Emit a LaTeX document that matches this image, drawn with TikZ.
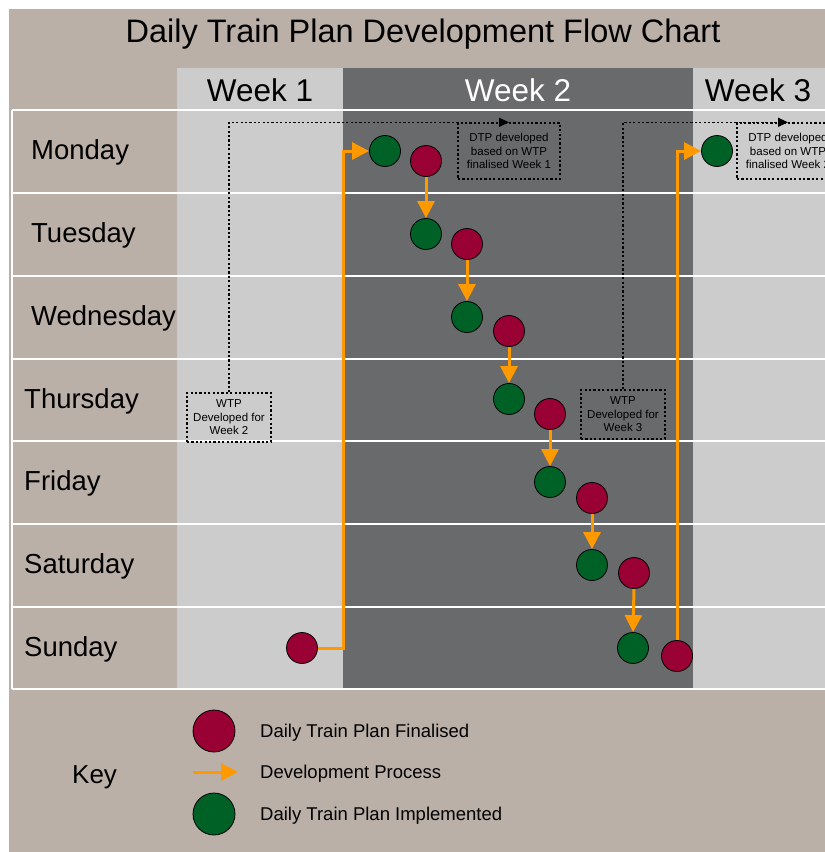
\documentclass[tikz,border=0pt]{standalone}
\usepackage{fontspec}
\setmainfont{Liberation Sans}
\usetikzlibrary{arrows.meta}

\definecolor{beige}{HTML}{BAB0A7}
\definecolor{lightgrey}{HTML}{CCCCCC}
\definecolor{darkgrey}{HTML}{696A6C}
\definecolor{planred}{HTML}{990033}
\definecolor{plangreen}{HTML}{006127}
\definecolor{orangeflow}{HTML}{FF9900}

\tikzset{
  finalised/.style={circle, draw=black, line width=0.8pt, fill=planred, minimum size=31pt, inner sep=0pt},
  implemented/.style={circle, draw=black, line width=0.8pt, fill=plangreen, minimum size=31pt, inner sep=0pt},
  devarrow/.style={draw=orangeflow, line width=3pt, -{Triangle[length=17pt,width=17pt]}},
  dotline/.style={line width=1.4pt, dash pattern=on 2.2pt off 2.2pt, -{Triangle[length=10pt,width=9pt]}},
  notebox/.style={draw, line width=1.4pt, dash pattern=on 2.2pt off 2.2pt, align=center, inner sep=0pt,
    font=\fontsize{11.5}{13.5}\selectfont},
  daylabel/.style={anchor=base west, inner sep=0pt, font=\fontsize{27.5}{30}\selectfont},
  weeklabel/.style={anchor=base, inner sep=0pt, font=\fontsize{31.5}{34}\selectfont},
  keylabel/.style={anchor=base west, inner sep=0pt, font=\fontsize{18.5}{20}\selectfont},
}

\begin{document}
\begin{tikzpicture}[x=1pt,y=-1pt]
  \clip (0,0) rectangle (825,852);
  \fill[beige] (9,9) rectangle (825,852);
  \fill[lightgrey] (177,68) rectangle (343,689);
  \fill[darkgrey]  (343,68) rectangle (693,689);
  \fill[lightgrey] (693,68) rectangle (825,689);

  % grid
  \draw[white, line width=1.5pt] (12,110) -- (12,689);
  \draw[white, line width=1.5pt] (12,110) -- (825,110);
  \draw[white, line width=1.5pt] (12,193) -- (825,193);
  \draw[white, line width=1.5pt] (12,276) -- (825,276);
  \draw[white, line width=1.5pt] (12,359) -- (825,359);
  \draw[white, line width=1.5pt] (12,441) -- (825,441);
  \draw[white, line width=1.5pt] (12,524) -- (825,524);
  \draw[white, line width=1.5pt] (12,607) -- (825,607);
  \draw[white, line width=1.5pt] (12,689) -- (825,689);

  \node[anchor=base, inner sep=0pt, font=\fontsize{32.5}{36}\selectfont] (title) at (423,42) {Daily Train Plan Development Flow Chart};
  \node[weeklabel] (week1) at (260,101) {Week 1};
  \node[weeklabel, text=white] (week2) at (518,101) {Week 2};
  \node[weeklabel] (week3) at (758,101) {Week 3};

  \node[daylabel] (mon) at (31,159) {Monday};
  \node[daylabel] (tue) at (31,242) {Tuesday};
  \node[daylabel] (wed) at (31,325) {Wednesday};
  \node[daylabel] (thu) at (24,408) {Thursday};
  \node[daylabel] (fri) at (24,490) {Friday};
  \node[daylabel] (sat) at (24,573) {Saturday};
  \node[daylabel] (sun) at (24,656) {Sunday};

  % notes
  \node[notebox, minimum width=84pt, minimum height=49pt] (wtp2) at (229,417.5) {WTP\\Developed for\\Week 2};
  \node[notebox, minimum width=84pt, minimum height=49pt] (wtp3) at (623,414.5) {WTP\\Developed for\\Week 3};
  \node[notebox, minimum width=102pt, minimum height=56pt] (dtp1) at (509,151) {DTP developed\\based on WTP\\finalised Week 1};
  \node[notebox, minimum width=102pt, minimum height=56pt] (dtp2) at (788,151) {DTP developed\\based on WTP\\finalised Week 2};
  \draw[dotline] (wtp2.north) |- (dtp1.north);
  \draw[dotline] (wtp3.north) |- (dtp2.north);

  % plans
  \node[finalised] (r0) at (302,648) {};
  \node[implemented] (g1) at (385,151) {};
  \node[finalised] (r1) at (426,161) {};
  \node[implemented] (g2) at (426,234) {};
  \node[finalised] (r2) at (467,244) {};
  \node[implemented] (g3) at (467,317) {};
  \node[finalised] (r3) at (509,331) {};
  \node[implemented] (g4) at (509,399) {};
  \node[finalised] (r4) at (550,414) {};
  \node[implemented] (g5) at (550,482) {};
  \node[finalised] (r5) at (592,498) {};
  \node[implemented] (g6) at (592,565) {};
  \node[finalised] (r6) at (634,573) {};
  \node[implemented] (g7) at (633,648) {};
  \node[finalised] (r7) at (677,656) {};
  \node[implemented] (g8) at (717,151) {};

  \coordinate (turn1) at (343,151);
  \draw[devarrow] (r0.east) -| (turn1) -- (g1.west);
  \draw[devarrow] (r1.south) -- (g2.north);
  \draw[devarrow] (r2.south) -- (g3.north);
  \draw[devarrow] (r3.south) -- (g4.north);
  \draw[devarrow] (r4.south) -- (g5.north);
  \draw[devarrow] (r5.south) -- (g6.north);
  \draw[devarrow] (r6.south) -- (g7.north);
  \draw[devarrow] (r7.north) |- (g8.west);

  % key
  \node[anchor=base west, inner sep=0pt, font=\fontsize{26}{30}\selectfont] (key) at (72,783) {Key};
  \node[finalised, minimum size=42pt] (keyred) at (214,731) {};
  \coordinate (keya) at (193,772);
  \coordinate (keyb) at (238,772);
  \draw[devarrow] (keya) -- (keyb);
  \node[implemented, minimum size=42pt] (keygreen) at (214,814) {};
  \node[keylabel] (keyredtext) at (260,737.5) {Daily Train Plan Finalised};
  \node[keylabel] (keyflowtext) at (260,778) {Development Process};
  \node[keylabel] (keygreentext) at (260,820) {Daily Train Plan Implemented};
\end{tikzpicture}
\end{document}
